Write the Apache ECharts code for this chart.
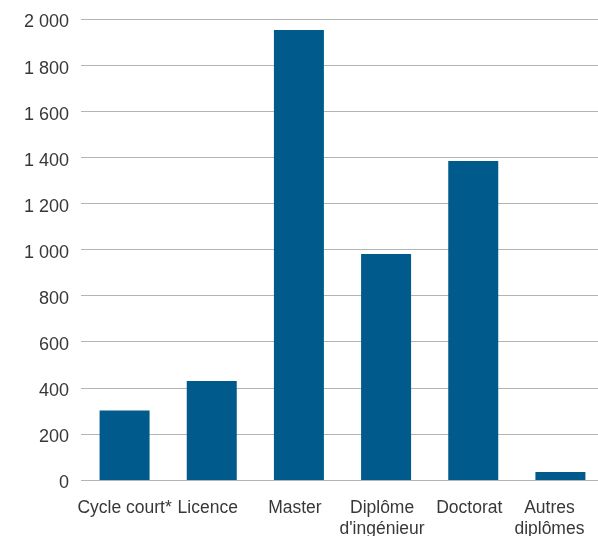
<!DOCTYPE html>
<html><head><meta charset="utf-8">
<script src="https://cdn.jsdelivr.net/npm/echarts@6/dist/echarts.min.js"></script>
<style>html,body{margin:0;padding:0;background:#fff}#c{width:598px;height:536px}</style>
</head><body><div id="c"></div>
<script>
var categories = ["Cycle court*", "Licence", "Master", "Diplôme\nd'ingénieur", "Doctorat", "Autres\ndiplômes"];
var values = [302, 430, 1952, 980, 1384, 35];
var yTicks = [0, 200, 400, 600, 800, 1000, 1200, 1400, 1600, 1800, 2000];

var FONT = 'Liberation Sans, Arial, sans-serif';
function labelStyle(idx) { return idx === 0 ? 'a' : (idx === 5 ? 'c' : 'b'); }

var chart = echarts.init(document.getElementById('c'), null, {renderer: 'canvas'});
chart.setOption({
  animation: false,
  grid: {left: 81, right: -6, top: 19, bottom: 56, containLabel: false, outerBoundsMode: 'none'},
  xAxis: {
    type: 'category', data: categories,
    axisLine: {show: false}, axisTick: {show: false},
    axisLabel: {
      interval: 0, color: '#383838', fontSize: 17.5, fontFamily: FONT, margin: 18, lineHeight: 21,
      formatter: function (v, i) {
        var k = labelStyle(i);
        return v.split('\n').map(function (s) { return '{' + k + '|' + s + '}'; }).join('\n');
      },
      rich: {
        a: {fontSize: 17.5, fontFamily: FONT, color: '#383838', lineHeight: 21},
        b: {fontSize: 17.5, fontFamily: FONT, color: '#383838', lineHeight: 21, padding: [0, 8, 0, 0]},
        c: {fontSize: 17.5, fontFamily: FONT, color: '#383838', lineHeight: 21, padding: [0, 22, 0, 0]}
      }
    }
  },
  yAxis: {
    type: 'value', min: 0, max: 2000, interval: 200,
    axisLine: {show: false}, axisTick: {show: false},
    splitLine: {lineStyle: {color: '#b4b4b4', width: 1}},
    axisLabel: {color: '#383838', fontSize: 18, fontFamily: FONT, margin: 12,
      formatter: function (v) { return '{v|' + String(v).replace(/\B(?=(\d{3})+(?!\d))/g, ' ') + '}'; },
      rich: {v: {fontSize: 18, fontFamily: FONT, color: '#383838', lineHeight: 25, verticalAlign: 'bottom'}}
    }
  },
  series: [{
    type: 'bar', data: values, barWidth: 50,
    itemStyle: {color: '#005a8c'}
  }]
});
</script></body></html>
